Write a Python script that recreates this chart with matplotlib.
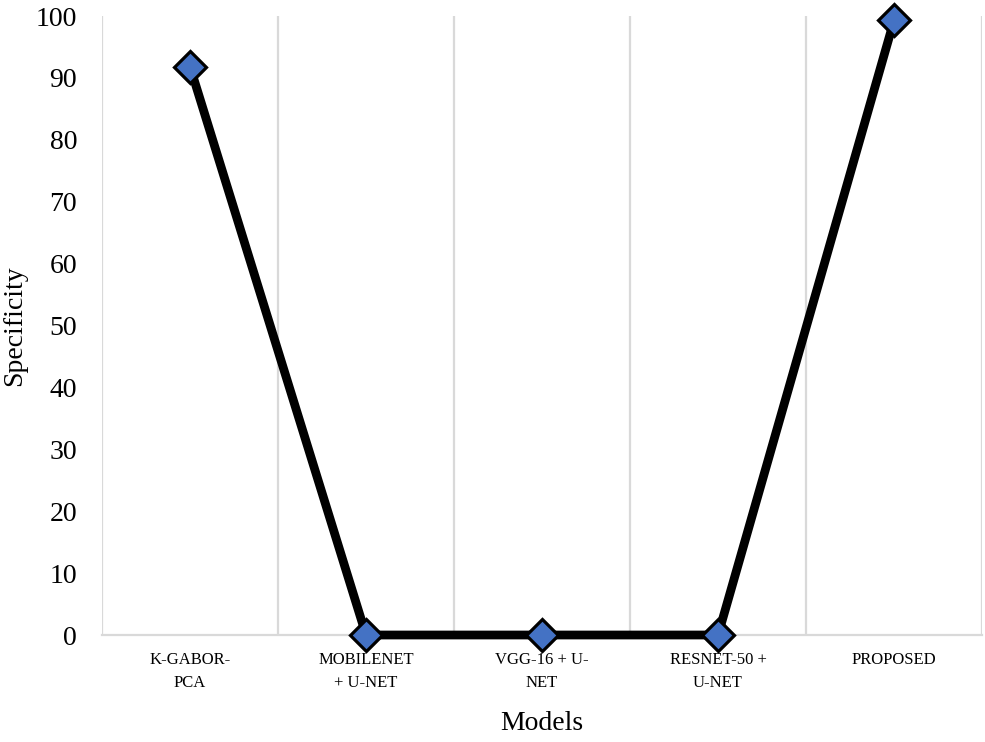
import numpy as np
import matplotlib
matplotlib.use('Agg')
import matplotlib.pyplot as plt

models = ['K-GABOR-\nPCA', 'MOBILENET\n+ U-NET', 'VGG-16 + U-\nNET',
          'RESNET-50 +\nU-NET', 'PROPOSED']
specificity = [91.8, 0, 0, 0, 99.3]
yticks = list(range(0, 101, 10))

plt.rcParams['font.family'] = ['Liberation Serif', 'DejaVu Serif']

fig = plt.figure(figsize=(9.85, 7.42), dpi=100)
ax = fig.add_axes([0.1036, 0.1442, 0.8934, 0.8342])

x = np.arange(len(models))
for b in np.arange(-0.5, len(models), 1.0):
    ax.axvline(b, color='#D9D9D9', lw=1.6, zorder=0)

ax.plot(x, specificity, color='black', lw=6.3, marker='D', markersize=16.5,
        markerfacecolor='#4472C4', markeredgecolor='black', markeredgewidth=2.3,
        clip_on=False, zorder=3)

ax.set_xlim(-0.5, len(models) - 0.5)
ax.set_ylim(0, 100)
ax.set_yticks(yticks)
ax.set_xticks(x)
ax.set_xticklabels(models, fontsize=12, linespacing=1.65)
ax.tick_params(axis='y', length=0, pad=18, labelsize=20)
ax.tick_params(axis='x', length=0, pad=12)
for s in ['top', 'right', 'left']:
    ax.spines[s].set_visible(False)
ax.spines['bottom'].set_color('#D9D9D9')
ax.spines['bottom'].set_linewidth(1.6)

ax.set_ylabel('Specificity', fontsize=20, labelpad=6)
ax.set_xlabel('Models', fontsize=20, labelpad=14)

fig.savefig('out.png', dpi=100)
